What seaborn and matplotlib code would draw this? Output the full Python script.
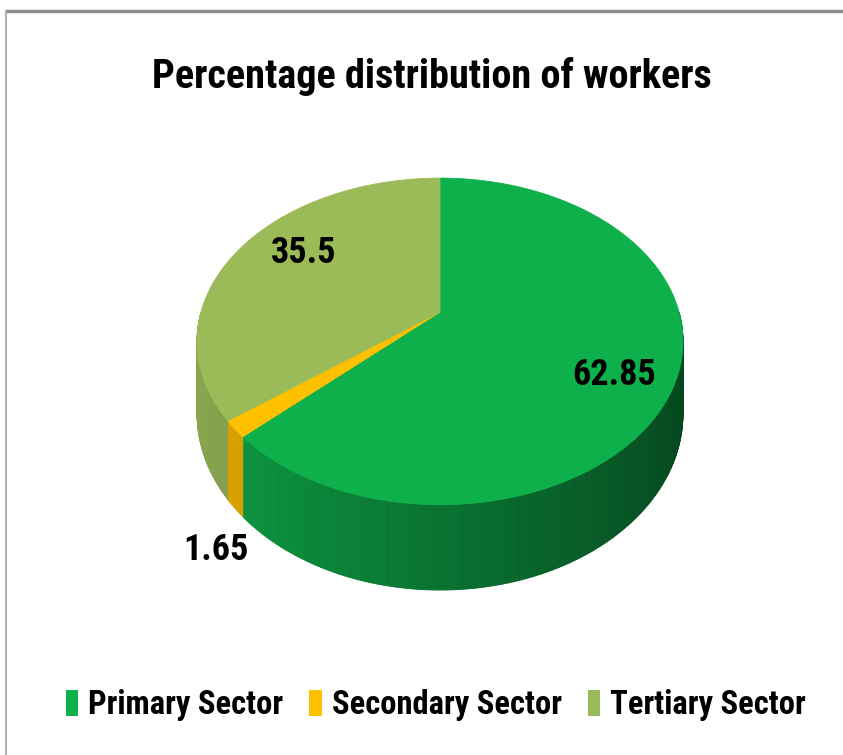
import numpy as np
import matplotlib
matplotlib.use("Agg")
import matplotlib.pyplot as plt
from matplotlib.patches import Polygon, Patch
from matplotlib.lines import Line2D
import seaborn as sns

# ---- data ----
sectors = ["Primary Sector", "Secondary Sector", "Tertiary Sector"]
values = [62.85, 1.65, 35.5]
value_labels = ["62.85", "1.65", "35.5"]
title = "Percentage distribution of workers"

# ---- style ----
sns.set_theme(style="white")
plt.rcParams["font.family"] = ["Roboto Condensed", "PT Sans Narrow", "DejaVu Sans"]
top_colors = sns.color_palette(["#0DB04B", "#FFC000", "#9BBB59"])

W, H = 843, 755
fig = plt.figure(figsize=(W / 100, H / 100), dpi=100)
ax = fig.add_axes([0, 0, 1, 1])
ax.set_xlim(0, W)
ax.set_ylim(H, 0)
ax.axis("off")

# ---- 3D pie geometry (layout) ----
cx, cy = 440, 312          # projected pie centre
A, B, k = 239, 158, 0.18   # horizontal/vertical radii and perspective factor
depth = 70                 # side height before perspective


def project(u, v):
    w = 1 + k * v
    return cx + A * u / w, cy - B * v / w


def side_h(v):
    return depth / (1 + k * v)


fracs = np.array(values) / np.sum(values)
# clockwise from 12 o'clock
starts = 90 - 360 * np.concatenate([[0], np.cumsum(fracs)[:-1]])
ends = starts - 360 * fracs

# side (outer wall), only the front half is visible
for i, (s, e) in enumerate(zip(starts, ends)):
    base = np.array(top_colors[i])
    lo, hi = e, s
    for shift in (0, 360, -360):
        a0, a1 = max(lo + shift, -180), min(hi + shift, 0)
        if a1 <= a0:
            continue
        ts = np.linspace(a0, a1, max(int((a1 - a0) * 2), 2))
        for t1, t2 in zip(ts[:-1], ts[1:]):
            r1, r2 = np.radians(t1), np.radians(t2)
            u1, v1 = np.cos(r1), np.sin(r1)
            u2, v2 = np.cos(r2), np.sin(r2)
            x1, y1 = project(u1, v1)
            x2, y2 = project(u2, v2)
            tm = np.radians((t1 + t2) / 2)
            shade = 0.40 + 0.50 * (-np.cos(tm) + 1) / 2
            col = np.clip(base * shade, 0, 1)
            poly = Polygon([(x1, y1), (x2, y2), (x2, y2 + side_h(v2)),
                            (x1, y1 + side_h(v1))], closed=True,
                           facecolor=col, edgecolor=col, linewidth=0.6)
            ax.add_patch(poly)

# top faces
for i, (s, e) in enumerate(zip(starts, ends)):
    ts = np.radians(np.linspace(s, e, 300))
    pts = [project(0, 0)] + [project(np.cos(t), np.sin(t)) for t in ts]
    ax.add_patch(Polygon(pts, closed=True, facecolor=top_colors[i],
                         edgecolor=top_colors[i], linewidth=0.6))

# data labels (radial factor and vertical offset are layout)
label_r = [0.75, 1.08, 0.67]
label_dy = [14, 110, -15]
for i, (s, e) in enumerate(zip(starts, ends)):
    m = np.radians((s + e) / 2)
    x, y = project(label_r[i] * np.cos(m), label_r[i] * np.sin(m))
    ax.text(x, y + label_dy[i], value_labels[i], ha="center", va="center",
            fontsize=26, fontweight="bold", color="black")

# title
ax.text(432, 76, title, ha="center", va="center", fontsize=29,
        fontweight="bold", color="black")

# border (top and left)
ax.add_line(Line2D([6, W], [11, 11], color="#8c8c8c", linewidth=2.5))
ax.add_line(Line2D([6, 6], [11, H], color="#b0b0b0", linewidth=1.5))

# legend
handles = [Patch(facecolor=top_colors[i], edgecolor="none") for i in range(3)]
fig.legend(handles, sectors, loc="center", bbox_to_anchor=(0.517, 0.066),
           ncol=3, frameon=False, prop={"size": 23.5, "weight": "bold"},
           labelcolor="black",
           handlelength=0.38, handleheight=0.85, handletextpad=0.3,
           columnspacing=0.8)

fig.savefig("out.png", dpi=100)
